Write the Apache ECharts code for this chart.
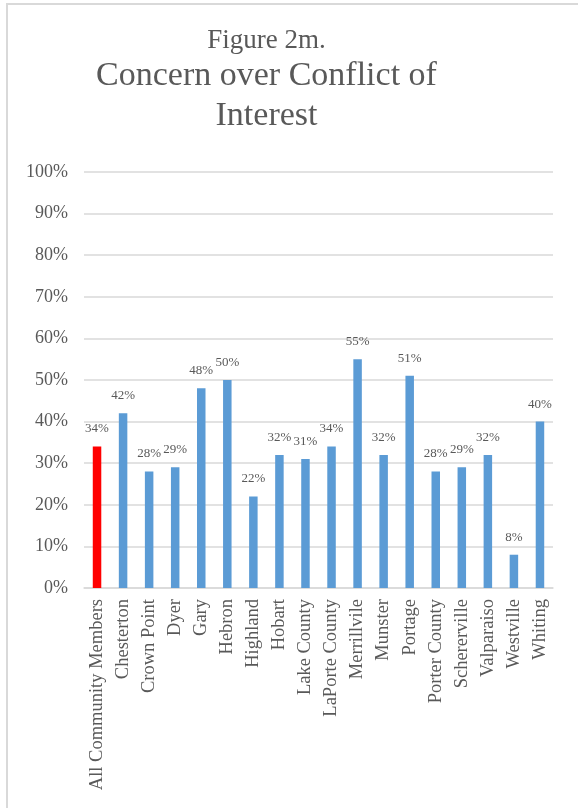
<!DOCTYPE html>
<html>
<head>
<meta charset="utf-8">
<script src="https://cdn.jsdelivr.net/npm/echarts@6/dist/echarts.min.js"></script>
<style>
  html, body { margin: 0; padding: 0; background: #ffffff; }
  #chart { width: 578px; height: 808px; }
</style>
</head>
<body>
<div id="chart"></div>
<script>
// Share of respondents concerned about conflict of interest, by community
const categories = [
  'All Community Members', 'Chesterton', 'Crown Point', 'Dyer', 'Gary', 'Hebron',
  'Highland', 'Hobart', 'Lake County', 'LaPorte County', 'Merrillvile', 'Munster',
  'Portage', 'Porter County', 'Schererville', 'Valparaiso', 'Westville', 'Whiting'
];
const values = [34, 42, 28, 29, 48, 50, 22, 32, 31, 34, 55, 32, 51, 28, 29, 32, 8, 40];
const highlightCategory = 'All Community Members';
const yTicks = [0, 10, 20, 30, 40, 50, 60, 70, 80, 90, 100];
const titleLines = ['Figure 2m.', 'Concern over Conflict of', 'Interest'];

const FONT = '"Liberation Serif", "Times New Roman", serif';
const TEXT = '#595959';
const BLUE = '#5B9BD5';
const RED = '#FF0000';
const GRID = '#D9D9D9';

const chart = echarts.init(document.getElementById('chart'), null, { renderer: 'canvas' });

const barData = categories.map((c, i) => ({
  value: values[i],
  itemStyle: { color: c === highlightCategory ? RED : BLUE }
}));

chart.setOption({
  backgroundColor: '#ffffff',
  animation: false,
  graphic: [
    {
      type: 'rect',
      shape: { x: 7, y: 4, width: 800, height: 1000 },
      style: { fill: 'none', stroke: GRID, lineWidth: 2 },
      silent: true
    },
    {
      type: 'text',
      x: 266.5, y: 41,
      style: {
        text: titleLines[0], fontFamily: FONT, fontSize: 27, fill: TEXT,
        align: 'center', verticalAlign: 'middle'
      }
    },
    {
      type: 'text',
      x: 266.5, y: 76.5,
      style: {
        text: titleLines[1], fontFamily: FONT, fontSize: 34, fill: TEXT,
        align: 'center', verticalAlign: 'middle'
      }
    },
    {
      type: 'text',
      x: 266.5, y: 116.5,
      style: {
        text: titleLines[2], fontFamily: FONT, fontSize: 34, fill: TEXT,
        align: 'center', verticalAlign: 'middle'
      }
    }
  ],
  grid: { left: 84, right: 25, top: 172, bottom: 220, containLabel: false },
  xAxis: {
    type: 'category',
    data: categories,
    axisLine: { show: true, lineStyle: { color: GRID, width: 1.5 } },
    axisTick: { show: false },
    axisLabel: {
      interval: 0,
      rotate: 90,
      margin: 11,
      fontFamily: FONT,
      fontSize: 18.5,
      color: TEXT
    }
  },
  yAxis: {
    type: 'value',
    min: yTicks[0],
    max: yTicks[yTicks.length - 1],
    interval: 10,
    axisLine: { show: false },
    axisTick: { show: false },
    splitLine: { show: true, lineStyle: { color: GRID, width: 1.5 } },
    axisLabel: {
      margin: 16,
      fontFamily: FONT,
      fontSize: 18,
      color: TEXT,
      formatter: v => v + '%'
    }
  },
  series: [{
    type: 'bar',
    data: barData,
    barWidth: 8.5,
    label: {
      show: true,
      position: 'top',
      distance: 11,
      fontFamily: FONT,
      fontSize: 13,
      color: TEXT,
      formatter: p => p.value + '%'
    }
  }]
});
</script>
</body>
</html>
